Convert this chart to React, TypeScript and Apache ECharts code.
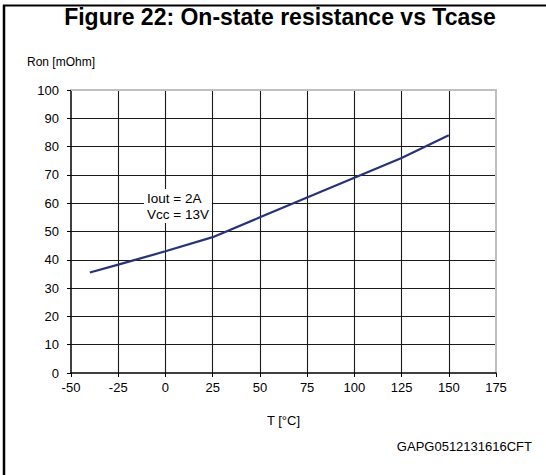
import React, { useEffect, useRef } from "react";
import * as echarts from "echarts";

const temperatures = [-40, -25, 0, 25, 50, 75, 100, 125, 150];
const resistance = [35.5, 38.3, 43, 48, 55, 62, 69, 76, 84];
const titleText = "Figure 22: On-state resistance vs Tcase";
const yAxisTitle = "Ron [mOhm]";
const xAxisTitle = "T [°C]";
const annotation = "Iout = 2A\nVcc = 13V";
const codeText = "GAPG0512131616CFT";

const FONT = "'Liberation Sans', Arial, sans-serif";

export default function App() {
  const ref = useRef<HTMLDivElement>(null);
  useEffect(() => {
    if (!ref.current) return;
    const chart = echarts.init(ref.current, undefined, { renderer: "svg" });
    const data = temperatures.map((t, i) => [t, resistance[i]]);
    chart.setOption({
      animation: false,
      backgroundColor: "#fff",
      textStyle: { fontFamily: FONT },
      grid: { left: 71, right: 50, top: 90, bottom: 102 },
      xAxis: [
        {
          type: "value",
          min: -50,
          max: 175,
          interval: 25,
          name: xAxisTitle,
          nameLocation: "middle",
          nameGap: 41,
          nameTextStyle: { color: "#000", fontSize: 13, fontFamily: FONT },
          axisLine: { show: true, onZero: false, lineStyle: { color: "#000", width: 1.5 } },
          axisTick: { show: true, length: 4, lineStyle: { color: "#000", width: 1 } },
          axisLabel: { color: "#000", fontSize: 13, margin: 8, fontFamily: FONT },
          splitLine: { show: true, showMinLine: false, showMaxLine: false, lineStyle: { color: "#1a1a1a", width: 1.1 } },
        },
        {
          type: "value",
          position: "top",
          min: -50,
          max: 175,
          interval: 25,
          axisLine: { show: true, onZero: false, lineStyle: { color: "#c0c0c0", width: 2 } },
          axisTick: { show: false },
          axisLabel: { show: false },
          splitLine: { show: false },
        },
      ],
      yAxis: [
        {
          type: "value",
          min: 0,
          max: 100,
          interval: 10,
          axisLine: { show: true, onZero: false, lineStyle: { color: "#000", width: 1.5 } },
          axisTick: { show: true, length: 4, lineStyle: { color: "#000", width: 1 } },
          axisLabel: { color: "#000", fontSize: 13, margin: 12, fontFamily: FONT },
          splitLine: { show: true, showMinLine: false, showMaxLine: false, lineStyle: { color: "#1a1a1a", width: 1.1 } },
        },
        {
          type: "value",
          position: "right",
          min: 0,
          max: 100,
          interval: 10,
          axisLine: { show: true, onZero: false, lineStyle: { color: "#c0c0c0", width: 2 } },
          axisTick: { show: false },
          axisLabel: { show: false },
          splitLine: { show: false },
        },
      ],
      series: [
        {
          type: "line",
          data,
          showSymbol: false,
          smooth: false,
          lineStyle: { color: "#283377", width: 2.2 },
          z: 5,
        },
      ],
      graphic: [
        {
          type: "line",
          shape: { x1: 3, y1: 5.5, x2: 546, y2: 5.5 },
          style: { stroke: "#000", lineWidth: 2 },
        },
        {
          type: "line",
          shape: { x1: 4, y1: 5, x2: 4, y2: 475 },
          style: { stroke: "#000", lineWidth: 2.5 },
        },
        {
          type: "text",
          x: 280,
          y: 17,
          style: {
            text: titleText,
            fill: "#000",
            font: `bold 23px ${FONT}`,
            textAlign: "center",
            textVerticalAlign: "middle",
          },
        },
        {
          type: "text",
          x: 27,
          y: 62,
          style: {
            text: yAxisTitle,
            fill: "#000",
            font: `12px ${FONT}`,
            textAlign: "left",
            textVerticalAlign: "middle",
          },
        },
        {
          type: "text",
          x: 144,
          y: 189,
          z: 10,
          style: {
            text: annotation,
            fill: "#000",
            font: `13.5px ${FONT}`,
            lineHeight: 16,
            textAlign: "left",
            textVerticalAlign: "top",
            backgroundColor: "#fff",
            padding: [1, 3, 1, 3],
          },
        },
        {
          type: "text",
          x: 532,
          y: 446,
          style: {
            text: codeText,
            fill: "#000",
            font: `13px ${FONT}`,
            textAlign: "right",
            textVerticalAlign: "middle",
          },
        },
      ],
    });
    return () => chart.dispose();
  }, []);
  return (
    <div
      ref={ref}
      style={{ position: "fixed", left: 0, top: 0, width: 546, height: 475 }}
    />
  );
}
